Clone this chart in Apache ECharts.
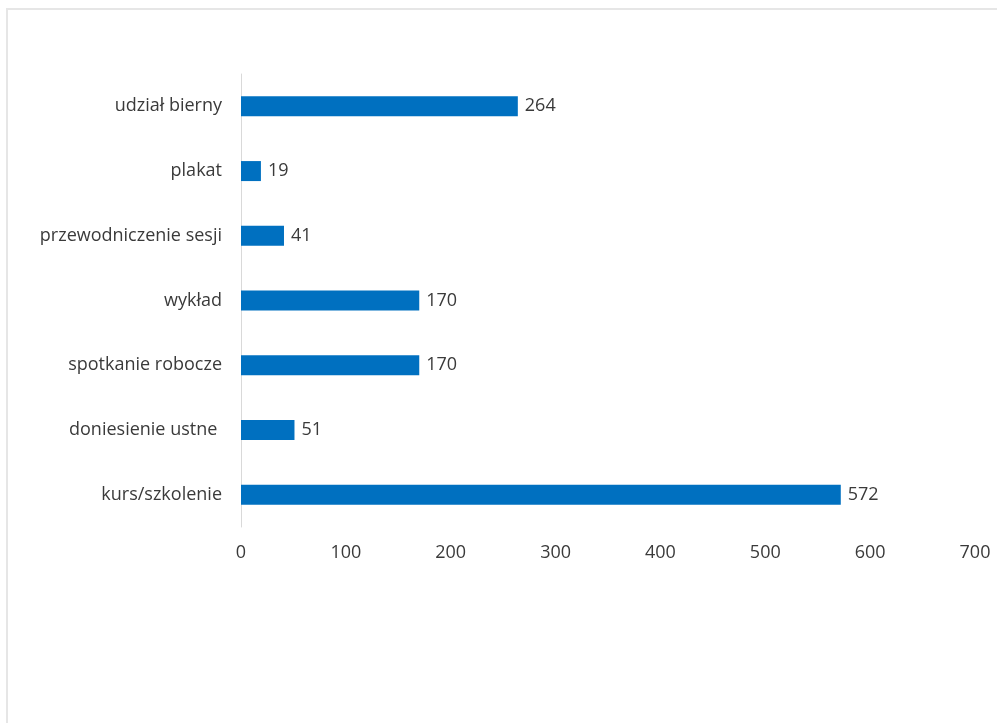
<!DOCTYPE html>
<html>
<head>
<meta charset="utf-8">
<script src="https://cdn.jsdelivr.net/npm/echarts@6/dist/echarts.min.js"></script>
<style>
html,body{margin:0;padding:0;background:#fff;}
#chart{width:997px;height:723px;}
</style>
</head>
<body>
<div id="chart"></div>
<script>
const categories = ["udział bierny", "plakat", "przewodniczenie sesji", "wykład", "spotkanie robocze", "doniesienie ustne ", "kurs/szkolenie"];
const values = [264, 19, 41, 170, 170, 51, 572];
const xTicks = [0, 100, 200, 300, 400, 500, 600, 700];

const chart = echarts.init(document.getElementById('chart'));
const font = '"Open Sans", "Liberation Sans", sans-serif';
chart.setOption({
  animation: false,
  backgroundColor: '#fff',
  graphic: [{
    type: 'rect',
    shape: { x: 7, y: 9, width: 1100, height: 800 },
    style: { fill: 'none', stroke: '#e6e6e6', lineWidth: 2 },
    silent: true
  }],
  grid: { left: 241, right: 22, top: 74, bottom: 196, containLabel: false },
  xAxis: {
    type: 'value',
    min: xTicks[0],
    max: xTicks[xTicks.length - 1],
    interval: 100,
    axisLine: { show: false },
    axisTick: { show: false },
    splitLine: { show: false },
    axisLabel: { color: '#3a3a3a', fontSize: 18, fontFamily: font, margin: 17 }
  },
  yAxis: {
    type: 'category',
    data: categories,
    inverse: true,
    axisLine: { show: true, lineStyle: { color: '#d9d9d9', width: 1 } },
    axisTick: { show: false },
    axisLabel: { color: '#3a3a3a', fontSize: 18, fontFamily: font, margin: 19 }
  },
  series: [{
    type: 'bar',
    data: values,
    barWidth: 20,
    itemStyle: { color: '#0070c0' },
    label: {
      show: true,
      position: 'right',
      distance: 7,
      color: '#3a3a3a',
      fontSize: 18,
      fontFamily: font
    }
  }]
});
</script>
</body>
</html>
